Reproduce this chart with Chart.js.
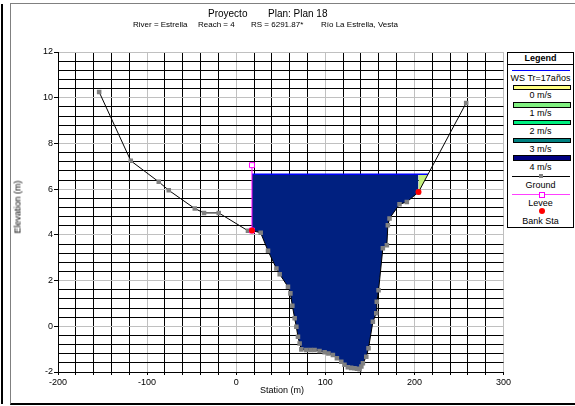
<!DOCTYPE html>
<html>
<head>
<meta charset="utf-8">
<script src="https://cdn.jsdelivr.net/npm/chart.js@4.4.0/dist/chart.umd.min.js"></script>
<style>
  body { margin: 0; background: #fff; width: 575px; height: 406px; overflow: hidden; position: relative;
         font-family: "Liberation Sans", Arial, sans-serif; }
  .t { position: absolute; white-space: nowrap; line-height: 1; color: #000; }
  #frame { position: absolute; left: 10px; top: 3px; width: 580px; height: 399px;
           border-left: 1px solid #808080; border-top: 1px solid #808080; border-bottom: 2px solid #000; }
  #bar { position: absolute; left: 1px; top: 4px; width: 2px; height: 400px; background: #000; }
  #c { position: absolute; left: 0; top: 0; }
  #legend { position: absolute; left: 507px; top: 52px; width: 65px; height: 174px; border: 1px solid #000; background: #fff; }
  #legend .row { position: absolute; left: 0; width: 65px; text-align: center; font-size: 9px; line-height: 1; }
  #legend .sw { position: absolute; left: 5px; width: 56px; height: 3.5px; border: 1px solid #000; }
  #legend .ln { position: absolute; left: 4px; width: 58px; height: 0; }
</style>
</head>
<body>
<div id="bar"></div>
<div id="frame"></div>
<canvas id="c" width="575" height="406"></canvas>

<div class="t" style="left:208px;top:9px;font-size:10px;">Proyecto</div>
<div class="t" style="left:268px;top:9px;font-size:10px;">Plan: Plan 18</div>
<div class="t" style="left:133px;top:20.6px;font-size:8px;">River = Estrella</div>
<div class="t" style="left:198px;top:20.6px;font-size:8px;">Reach = 4</div>
<div class="t" style="left:251px;top:20.6px;font-size:8px;">RS = 6291.87*</div>
<div class="t" style="left:321px;top:20.6px;font-size:8px;">Río La Estrella, Vesta</div>
<div class="t" style="left:18px;top:207px;font-size:9px;transform:translate(-50%,-50%) rotate(-90deg);">Elevation (m)</div>
<div class="t" style="left:282px;top:389.5px;font-size:9px;transform:translate(-50%,-50%);">Station (m)</div>

<div id="legend">
  <div class="row" style="top:1px;font-weight:bold;">Legend</div>
  <div class="ln" style="top:10.5px;left:0;width:65px;border-top:1px solid #000;"></div>
  <div class="ln" style="top:16.5px;border-top:1px solid #0000ff;"></div>
  <div class="row" style="top:21px;">WS Tr=17años</div>
  <div class="sw" style="top:31.5px;background:#ffff80;"></div>
  <div class="row" style="top:38px;">0 m/s</div>
  <div class="sw" style="top:49px;background:#80f080;"></div>
  <div class="row" style="top:56px;">1 m/s</div>
  <div class="sw" style="top:66.5px;background:#00f080;"></div>
  <div class="row" style="top:74px;">2 m/s</div>
  <div class="sw" style="top:84.5px;background:#008080;"></div>
  <div class="row" style="top:92px;">3 m/s</div>
  <div class="sw" style="top:102px;background:#000080;"></div>
  <div class="row" style="top:109.5px;">4 m/s</div>
  <div class="ln" style="top:122.5px;border-top:1px solid #000;"></div>
  <div style="position:absolute;left:31px;top:121px;width:4px;height:4px;background:#808080;"></div>
  <div class="row" style="top:128px;">Ground</div>
  <div class="ln" style="top:141px;border-top:1px solid #ff40ff;"></div>
  <div style="position:absolute;left:31px;top:138.5px;width:4px;height:4px;border:1px solid #ff00ff;background:#fff;"></div>
  <div class="row" style="top:146px;">Levee</div>
  <div style="position:absolute;left:30.5px;top:155px;width:6px;height:6px;border-radius:50%;background:#ff0000;"></div>
  <div class="row" style="top:163.5px;">Bank Sta</div>
</div>

<script>
// --- data read from the cross section
const stations = [-153.8, -118.3, -86.9, -75.7, -46.5, -36.1, -19.6, 13.2, 17.7, 27.5, 35.7, 45.1, 48.8, 58.1, 60.8,
  63.0, 65.6, 67.5, 69.3, 71.2, 73.1, 78.7, 83.5, 88.0, 93.5, 99.2, 103.5, 108.5, 113.0, 117.9, 121.5, 125.3, 129.0,
  132.8, 135.5, 138.5, 140.5, 142.2, 146.0, 148.5, 153.4, 157.2, 157.8, 159.8, 164.6, 169.1, 170.2, 172.1, 183.3,
  191.5, 204.6, 258.1];
const elevations = [10.25, 7.24, 6.32, 5.95, 5.15, 4.96, 4.96, 4.18, 4.19, 4.09, 3.30, 2.53, 2.28, 1.73, 1.44,
  0.90, 0.35, -0.02, -0.46, -0.75, -1.01, -1.04, -1.04, -1.04, -1.08, -1.14, -1.19, -1.26, -1.40, -1.55, -1.68, -1.79, -1.82,
  -1.84, -1.86, -1.88, -1.76, -1.62, -1.33, -0.96, 0.20, 0.57, 1.07, 1.58, 3.41, 3.55, 4.42, 4.72, 5.34,
  5.44, 5.87, 9.77];

const bankStations = [17.7, 204.6];
const leveeStation = 17.7;
const leveeElev = 7.05;
const wsElev = 6.65;
const wsRightStation = 215.3;

const xTicksMajor = 100;   // labelled every 100 m, grid every 20 m
const yTicksMajor = 2;     // labelled every 2 m, grid every 0.4 m

// --- build point sets
const ground = stations.map((s, i) => ({ x: s, y: elevations[i] }));
const bankPts = bankStations.map(b => ground.find(p => p.x === b));
const wetted = ground.filter(p => p.x >= bankStations[0] && p.x <= bankStations[1]);
const overbank = [bankPts[1], { x: wsRightStation, y: wsElev }];

function isMult(v, m) { return Math.abs(v / m - Math.round(v / m)) < 1e-6; }

Chart.defaults.font.family = '"Liberation Sans", Arial, sans-serif';
Chart.defaults.color = '#000';

new Chart(document.getElementById('c'), {
  type: 'scatter',
  data: {
    datasets: [
      { label: 'Bank Sta', data: bankPts, showLine: false, pointRadius: 3, pointBackgroundColor: '#ff0000',
        pointBorderColor: '#ff0000', pointBorderWidth: 0, order: 0 },
      { label: 'Levee', data: [{ x: leveeStation, y: bankPts[0].y }, { x: leveeStation, y: leveeElev }], showLine: true,
        borderColor: '#ff00ff', borderWidth: 1, pointStyle: 'rect', pointRadius: 3.5, pointBackgroundColor: '#fff',
        pointBorderColor: '#ff00ff', pointBorderWidth: 1, order: 1 },
      { label: 'Ground', data: ground, showLine: true, borderColor: '#000', borderWidth: 1, pointStyle: 'rect',
        pointRadius: 3.2, pointBackgroundColor: '#808080', pointBorderColor: '#808080', pointBorderWidth: 0, order: 2 },
      { label: 'WS Tr=17años', data: [{ x: leveeStation, y: wsElev }, { x: wsRightStation, y: wsElev }], showLine: true,
        borderColor: '#0000ff', borderWidth: 1.5, pointRadius: 0, order: 3 },
      { label: 'overbank', data: overbank, showLine: true, borderWidth: 0, pointRadius: 0,
        fill: { value: wsElev }, backgroundColor: '#c4f07c', order: 4 },
      { label: 'channel', data: wetted, showLine: true, borderWidth: 0, pointRadius: 0,
        fill: { value: wsElev }, backgroundColor: '#002080', order: 5 }
    ]
  },
  options: {
    responsive: false,
    animation: false,
    layout: { padding: { left: 0, top: 52, right: 71.5, bottom: 0 } },
    plugins: { legend: { display: false }, tooltip: { enabled: false } },
    scales: {
      x: {
        type: 'linear', min: -200, max: 300,
        afterFit: s => { s.height = 34; },
        ticks: { stepSize: 20, maxTicksLimit: 100, autoSkip: false, maxRotation: 0, padding: 2,
                 font: { size: 9 }, callback: v => isMult(v, xTicksMajor) ? v : '' },
        grid: { color: c => isMult(c.tick.value, xTicksMajor) ? '#c0c0c0' : '#000', tickColor: '#000', tickLength: 3, lineWidth: 1 },
        border: { display: true, color: '#000', width: 1 }
      },
      y: {
        type: 'linear', min: -2, max: 12,
        afterFit: s => { s.width = 58; },
        ticks: { stepSize: 0.4, maxTicksLimit: 100, autoSkip: false, padding: 1,
                 font: { size: 9 }, callback: v => isMult(v, yTicksMajor) ? v : '' },
        grid: { color: c => isMult(c.tick.value, yTicksMajor) ? '#c0c0c0' : '#000',
                tickColor: c => isMult(c.tick.value, yTicksMajor) ? '#000' : 'rgba(0,0,0,0)', tickLength: 4, lineWidth: 1 },
        border: { display: true, color: '#000', width: 1 }
      }
    }
  }
});
</script>
</body>
</html>
